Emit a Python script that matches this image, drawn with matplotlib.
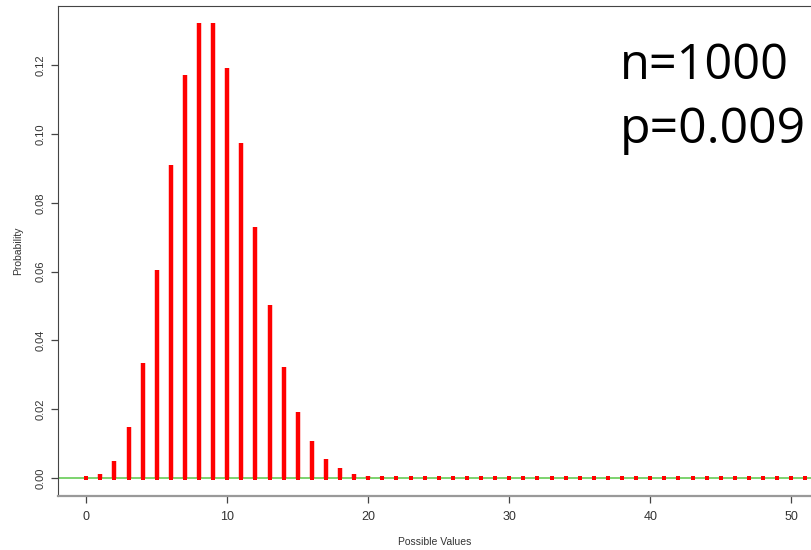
import numpy as np
import matplotlib.pyplot as plt

plt.rcParams['font.family'] = ['Liberation Sans', 'DejaVu Sans']

# binomial probabilities, n=1000, p=0.009
values = list(range(0, 52))
probs = [0.00012, 0.00108, 0.00488, 0.01475, 0.03338, 0.06039, 0.09095, 0.11729,
         0.13221, 0.13235, 0.11911, 0.09736, 0.07287, 0.05030, 0.03220, 0.01922,
         0.01075, 0.00565, 0.00280, 0.00132, 0.00059, 0.00025, 0.00010]
probs = probs + [0.0] * (len(values) - len(probs))

fig = plt.figure(figsize=(8.11, 5.5), dpi=100)
ax = fig.add_axes([58 / 811, 54 / 550, 1 - 58 / 811, 490 / 550])

ax.axhline(0, color='#66cc55', linewidth=1.2, zorder=1)
ax.vlines(values, 0, probs, color='red', linewidth=3.2, zorder=2)
ax.scatter(values, np.zeros(len(values)), s=7, marker='s', color='red', zorder=3, linewidths=0)

ax.set_xlim(-2, -2 + 753 / 14.1)
ax.set_ylim(-0.0052, 0.1372)
ax.set_xticks([0, 10, 20, 30, 40, 50])
ax.set_yticks([0, 0.02, 0.04, 0.06, 0.08, 0.10, 0.12])
ax.set_yticklabels(['0.00', '0.02', '0.04', '0.06', '0.08', '0.10', '0.12'],
                   rotation=90, va='center')

ax.spines['right'].set_visible(False)
for s in ['left', 'top']:
    ax.spines[s].set_color('#444444')
ax.spines['bottom'].set_color('#999999')
ax.spines['bottom'].set_linewidth(1.6)
ax.tick_params(direction='out', length=5, width=0.9, colors='#444444',
               labelsize=8, labelcolor='#333333')
ax.tick_params(axis='x', labelsize=9, pad=6)
ax.tick_params(axis='y', pad=4)

ax.set_xlabel('Possible Values', fontsize=7.5, color='#333333', labelpad=10)
ax.set_ylabel('Probability', fontsize=7.5, color='#333333', labelpad=9)

fig.text(620 / 811, 1 - 66 / 550, 'n=1000', fontsize=35, family='Open Sans',
         va='center', ha='left')
fig.text(620 / 811, 1 - 130 / 550, 'p=0.009', fontsize=36, family='Open Sans',
         va='center', ha='left')

fig.savefig('out.png', dpi=100)
